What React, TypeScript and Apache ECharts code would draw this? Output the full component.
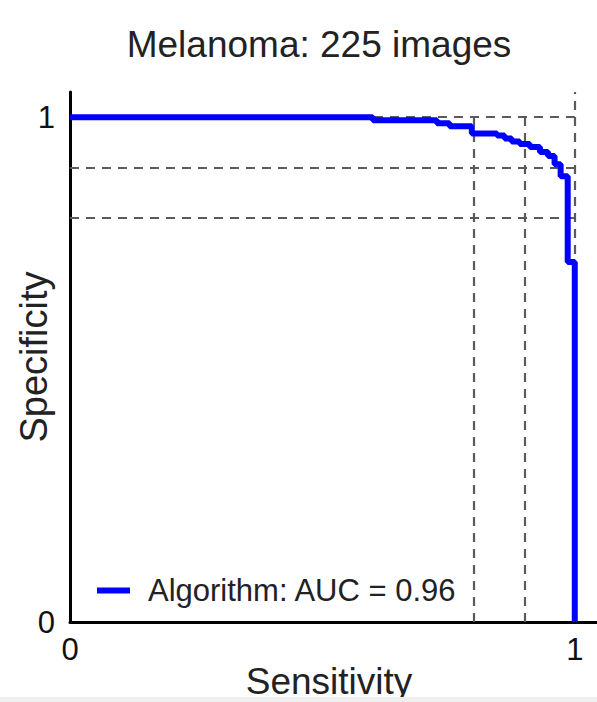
import React, { useEffect, useRef } from "react";
import * as echarts from "echarts";

const titleText = "Melanoma: 225 images";
const seriesName = "Algorithm: AUC = 0.96";
const xName = "Sensitivity";
const yName = "Specificity";

// ROC operating points (step curve)
const sensitivity = [0, 0.6, 0.727, 0.752, 0.796, 0.846, 0.861, 0.875, 0.891, 0.911, 0.931, 0.947, 0.96, 0.972, 0.986, 1.0];
const specificity = [1.0, 0.994, 0.988, 0.982, 0.968, 0.964, 0.958, 0.952, 0.947, 0.941, 0.931, 0.923, 0.907, 0.883, 0.713, 0];

// dashed reference lines
const refVertical = [0.8, 0.9];
const refHorizontal = [0.8, 0.9, 1.0];
const axisMax = 1.05;

const FONT = "'Liberation Sans', Arial, Helvetica, sans-serif";

export default function App() {
  const ref = useRef<HTMLDivElement>(null);

  useEffect(() => {
    if (!ref.current) return;
    const chart = echarts.init(ref.current, null, { renderer: "svg" });

    const dashStyle = { color: "#5a5a5a", width: 2.2, type: [9, 7] as number[] };
    const markData: any[] = [];
    refVertical.forEach((v) => {
      markData.push([{ coord: [v, 0] }, { coord: [v, 1] }]);
    });
    markData.push([{ coord: [1, 0] }, { coord: [1, axisMax] }]);
    refHorizontal.forEach((h) => {
      markData.push([{ coord: [0, h] }, { coord: [1, h] }]);
    });

    chart.setOption({
      animation: false,
      textStyle: { fontFamily: FONT },
      title: {
        text: titleText,
        left: 319,
        top: 26,
        padding: 0,
        textAlign: "center",
        textStyle: { fontSize: 37, fontWeight: "normal", color: "#222", fontFamily: FONT },
      },
      legend: {
        data: [seriesName],
        left: 97,
        top: 575,
        padding: 0,
        icon: "rect",
        itemWidth: 33,
        itemHeight: 6,
        textStyle: { fontSize: 31, color: "#222", fontFamily: FONT, padding: [0, 0, 0, 13] },
      },
      grid: { left: 70, top: 92, width: 530, height: 530, containLabel: false, outerBoundsMode: "none" },
      xAxis: {
        type: "value",
        min: 0,
        max: axisMax,
        interval: 1,
        name: xName,
        nameLocation: "middle",
        nameGap: 41,
        nameMoveOverlap: false,
        nameTextStyle: { fontSize: 37, color: "#222", fontFamily: FONT, padding: [0, 12, 0, 0] },
        axisLine: { show: true, lineStyle: { color: "#000", width: 3 } },
        axisTick: { show: false },
        splitLine: { show: false },
        axisLabel: { fontSize: 31, color: "#111", margin: 12, showMaxLabel: false, fontFamily: FONT },
      },
      yAxis: {
        type: "value",
        min: 0,
        max: axisMax,
        interval: 1,
        name: yName,
        nameLocation: "middle",
        nameGap: 17,
        nameMoveOverlap: false,
        nameTextStyle: { fontSize: 38, color: "#222", fontFamily: FONT },
        axisLine: { show: true, lineStyle: { color: "#000", width: 3 } },
        axisTick: { show: false },
        splitLine: { show: false },
        axisLabel: {
          fontSize: 31,
          color: "#111",
          margin: 15,
          showMaxLabel: false,
          fontFamily: FONT,
          padding: [0, 0, 10, 0],
        },
      },
      series: [
        {
          name: "refs",
          type: "line",
          data: [],
          silent: true,
          z: 1,
          markLine: {
            silent: true,
            symbol: "none",
            label: { show: false },
            lineStyle: dashStyle,
            data: markData,
          },
        },
        {
          name: seriesName,
          type: "line",
          step: "end",
          z: 5,
          symbol: "none",
          color: "#0000ff",
          lineStyle: { color: "#0000ff", width: 6 },
          data: sensitivity.map((s, i) => [s, specificity[i]]),
        },
      ],
      graphic: [
        {
          type: "rect",
          z: 100,
          shape: { x: 0, y: 697, width: 597, height: 5 },
          style: { fill: "#efefef" },
        },
      ],
    });

    return () => chart.dispose();
  }, []);

  return (
    <div
      ref={ref}
      style={{ position: "absolute", left: 0, top: 0, width: 597, height: 702, background: "#fff" }}
    />
  );
}
